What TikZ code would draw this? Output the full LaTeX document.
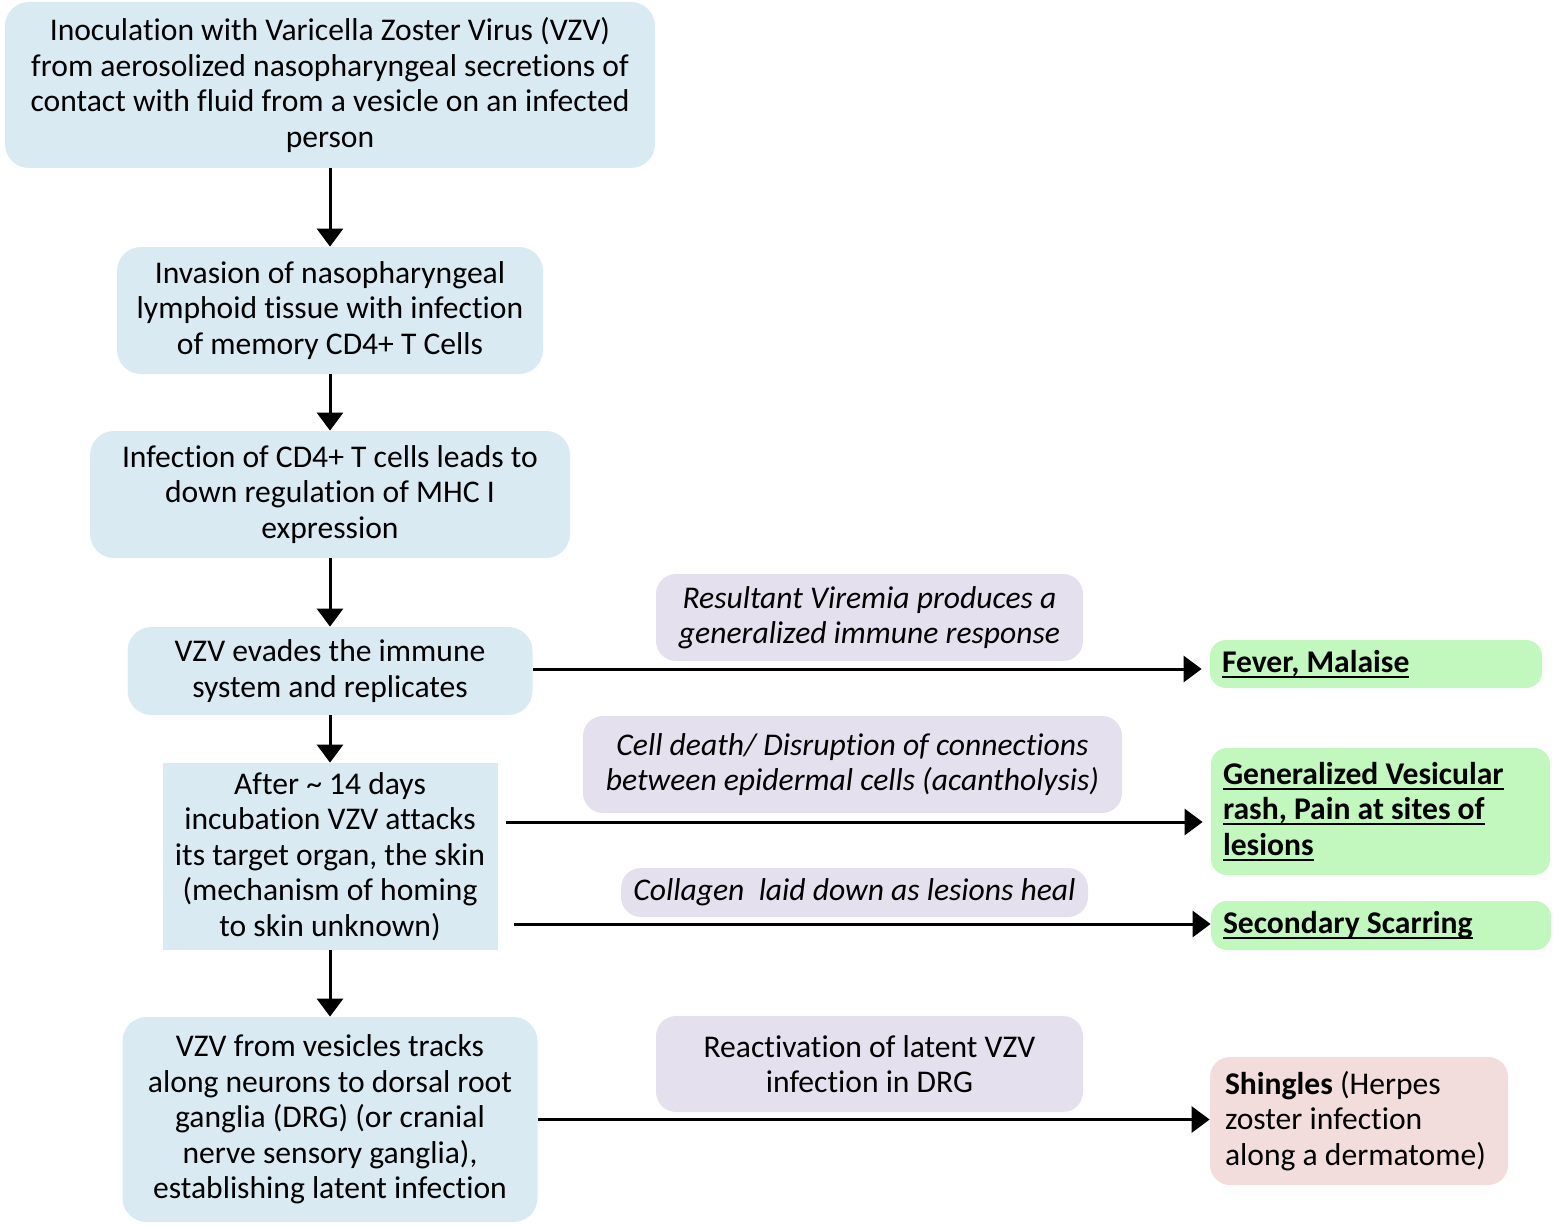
\documentclass[tikz,border=0pt]{standalone}
\usepackage{fontspec}
\setmainfont{Carlito}[Ligatures=NoCommon]
\usetikzlibrary{arrows.meta}

\definecolor{stageblue}{RGB}{218,234,243}
\definecolor{causelilac}{RGB}{228,224,238}
\definecolor{signgreen}{RGB}{194,247,190}
\definecolor{shinglepink}{RGB}{242,220,220}

\newsavebox\ulsave
\newcommand\ulbox[1]{\leavevmode\sbox\ulsave{#1}\rlap{\rule[-2.8pt]{\wd\ulsave}{1.1pt}}\usebox\ulsave}

\begin{document}
\begin{tikzpicture}[x=0.5pt,y=-0.5pt,
                      font=\fontsize{15.8}{17.75}\selectfont,
                      stage/.style={fill=stageblue, rounded corners=12pt, align=center, inner sep=0pt},
                      cause/.style={fill=causelilac, rounded corners=10pt, align=center, inner sep=0pt},
                      sign/.style={fill=signgreen, rounded corners=8pt, align=flush left, inner xsep=6pt, inner ysep=0pt,
                                   font=\fontsize{15.8}{17.75}\selectfont\bfseries},
                      flow/.style={-{Triangle[width=13pt,length=9pt]}, line width=1.5pt}]
                      \useasboundingbox (0,0) rectangle (1556,1225);
                      % main column
                      \node[stage, minimum width=325pt, minimum height=83pt] (inoc) at (330,85)
                          {Inoculation with Varicella Zoster Virus (VZV)\\from aerosolized nasopharyngeal secretions of\\contact with fluid from a vesicle on an infected\\person};
                      \node[stage, minimum width=213pt, minimum height=63.5pt] (invasion) at (330,310.5)
                          {Invasion of nasopharyngeal\\lymphoid tissue with infection\\of memory CD4+ T Cells};
                      \node[stage, minimum width=240pt, minimum height=63.5pt] (mhc) at (330,494.5)
                          {Infection of CD4+ T cells leads to\\down regulation of MHC I\\expression};
                      \node[stage, minimum width=202.5pt, minimum height=44pt] (evade) at (330,671)
                          {VZV evades the immune\\system and replicates};
                      \node[stage, rounded corners=0pt, minimum width=167.5pt, minimum height=93.5pt] (incub) at (330,856.5)
                          {After \textasciitilde{} 14 days\\incubation VZV attacks\\its target organ, the skin\\(mechanism of homing\\to skin unknown)};
                      \node[stage, minimum width=207.5pt, minimum height=102.5pt] (latent) at (330,1119.5)
                          {VZV from vesicles tracks\\along neurons to dorsal root\\ganglia (DRG) (or cranial\\nerve sensory ganglia),\\establishing latent infection};
                      % causes
                      \node[cause, minimum width=213.5pt, minimum height=43.5pt] (viremia) at (869.5,617.5)
                          {\itshape Resultant Viremia produces a\\\itshape generalized immune response};
                      \node[cause, minimum width=269.5pt, minimum height=48.5pt] (death) at (852.5,764.5)
                          {\itshape Cell death/ Disruption of connections\\\itshape between epidermal cells (acantholysis)};
                      \node[cause, minimum width=233.5pt, minimum height=24.5pt] (collagen) at (854.5,892.5)
                          {\itshape Collagen\ \ laid down as lesions heal};
                      \node[cause, minimum width=213.5pt, minimum height=48pt] (reactiv) at (869.5,1064)
                          {Reactivation of latent VZV\\infection in DRG};
                      % outcomes
                      \node[sign, text width=154pt, minimum height=24pt] (fever) at (1376,664)
                          {\ulbox{Fever, Malaise}};
                      \node[sign, text width=157.5pt, minimum height=63.5pt] (rash) at (1380.5,811.5)
                          {\ulbox{Generalized Vesicular}\\\ulbox{rash, Pain at sites of}\\\ulbox{lesions}};
                      \node[sign, text width=158pt, minimum height=24.5pt] (scar) at (1381,925.5)
                          {\ulbox{Secondary Scarring}};
                      \node[fill=shinglepink, rounded corners=10pt, align=flush left, inner xsep=7.5pt, inner ysep=0pt,
                            text width=134pt, minimum height=64pt] (shingles) at (1359,1121)
                          {\textbf{Shingles} (Herpes\\zoster infection\\along a dermatome)};
                      % arrows
                      \draw[flow] (inoc) -- (invasion);
                      \draw[flow] (invasion) -- (mhc);
                      \draw[flow] (mhc) -- (evade);
                      \draw[flow] (evade) -- (incub);
                      \draw[flow] (incub) -- (latent);
                      \draw[flow] ([yshift=1pt]evade.east) -- ([yshift=1pt]evade.east -| fever.west) [shorten >=4pt];
                      \draw[flow] ([xshift=4pt,yshift=17.25pt]incub.east) -- ([yshift=17.25pt]incub.east -| rash.west) [shorten >=4pt];
                      \draw[flow] ([xshift=8pt,yshift=-33.75pt]incub.east) -- ([yshift=-33.75pt]incub.east -| scar.west);
                      \draw[flow] (latent.east) -- (latent.east -| shingles.west);
                  \end{tikzpicture}
\end{document}
